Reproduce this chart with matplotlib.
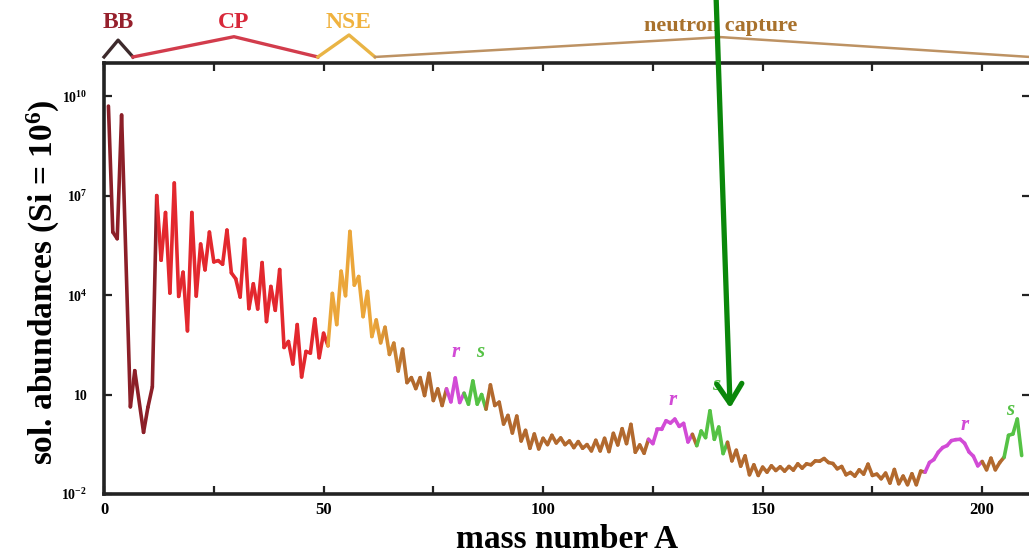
import numpy as np
import matplotlib.pyplot as plt
from matplotlib.collections import LineCollection
from matplotlib.colors import to_rgb
from matplotlib.ticker import NullLocator

plt.rcParams["font.family"] = "Liberation Serif"
plt.rcParams["font.weight"] = "bold"
plt.rcParams["axes.labelweight"] = "bold"
plt.rcParams["mathtext.fontset"] = "custom"
plt.rcParams["mathtext.rm"] = "Liberation Serif:bold"
plt.rcParams["mathtext.bf"] = "Liberation Serif:bold"
plt.rcParams["mathtext.it"] = "Liberation Serif:italic:bold"

# mass numbers (no stable nuclei at A = 5 and A = 8)
mass = list(range(1, 5)) + [6, 7] + list(range(9, 210))

# log10 of the solar abundance per mass number (Si = 1e6)
log_abund = [
    9.70, 5.90, 5.70, 9.43,                                              # 1-4
    0.63, 1.72,                                                          # 6-7
    -0.14, 0.62, 1.23,                                                   # 9-11
    7.00, 5.05, 6.49, 4.06, 7.38, 3.96, 4.69, 2.92, 6.49,                # 12-20
    3.97, 5.54, 4.76, 5.90, 5.00, 5.04, 4.93, 5.96, 4.67, 4.49,          # 21-30
    3.94, 5.69, 3.59, 4.34, 3.58, 4.98, 3.20, 4.26, 3.54, 4.77,          # 31-40
    2.42, 2.60, 1.92, 3.11, 1.53, 2.30, 2.25, 3.28, 2.11, 2.85,          # 41-50
    2.47, 4.05, 3.11, 4.72, 3.98, 5.92, 4.30, 4.56, 3.35, 4.11,          # 51-60
    2.75, 3.25, 2.56, 3.03, 2.21, 2.55, 1.71, 2.37, 1.36, 1.51,          # 61-70
    1.18, 1.51, 0.97, 1.64, 0.82, 1.17, 0.67, 1.17, 0.78, 1.50,          # 71-80
    0.76, 1.04, 0.71, 1.41, 0.71, 1.00, 0.56, 1.29, 0.67, 0.77,          # 81-90
    0.11, 0.37, -0.16, 0.35, -0.40, -0.08, -0.62, -0.19, -0.64, -0.32,   # 91-100
    -0.51, -0.23, -0.46, -0.31, -0.51, -0.40, -0.60, -0.42, -0.62, -0.51,  # 101-110
    -0.70, -0.38, -0.70, -0.32, -0.72, -0.17, -0.52, -0.03, -0.48, 0.10,   # 111-120
    -0.74, -0.52, -0.77, -0.35, -0.48, -0.05, -0.05, 0.21, 0.14, 0.26,     # 121-130
    0.04, 0.13, -0.43, -0.20, -0.54, -0.10, -0.30, 0.51, -0.35, 0.02,      # 131-140
    -0.78, -0.44, -1.00, -0.68, -1.16, -0.85, -1.42, -1.12, -1.44, -1.19,  # 141-150
    -1.34, -1.15, -1.29, -1.18, -1.31, -1.17, -1.28, -1.09, -1.22, -1.09,  # 151-160
    -1.12, -1.00, -1.01, -0.93, -1.05, -1.08, -1.24, -1.17, -1.42, -1.35,  # 161-170
    -1.46, -1.27, -1.40, -1.10, -1.44, -1.40, -1.54, -1.37, -1.67, -1.26,  # 171-180
    -1.69, -1.46, -1.72, -1.39, -1.72, -1.31, -1.34, -1.05, -0.96, -0.74,  # 181-190
    -0.60, -0.54, -0.39, -0.36, -0.35, -0.47, -0.73, -0.86, -1.15, -1.02,  # 191-200
    -1.27, -0.92, -1.27, -1.05, -0.89, -0.23, -0.19, 0.26, -0.84,          # 201-209
]

# mass ranges of the r- and s-process peaks
r_spans = [(78, 82), (124, 134), (187, 200)]
s_spans = [(82, 87), (135, 142), (205, 209)]

# nucleosynthesis regimes shown above the frame: name, start, peak, end
regimes = ["BB", "CP", "NSE", "neutron capture"]
regime_start = [0, 6.6, 48.7, 61.7]
regime_peak = [3.2, 29.6, 55.8, 140.5]
regime_end = [6.6, 48.7, 61.7, 210.9]

# y ticks
ytick_vals = [1e-2, 1e1, 1e4, 1e7, 1e10]
ytick_labels = ["10$^{-2}$", "10", "10$^{4}$", "10$^{7}$", "10$^{10}$"]

C_BB = "#8c1f28"
C_CP = "#e3282e"
C_NSE = "#eba63a"
C_NC = "#b2692e"
C_R = "#d24bd6"
C_S = "#55c245"


def seg_color(a0, a1):
    for lo, hi in r_spans:
        if lo <= a0 and a1 <= hi:
            return C_R
    for lo, hi in s_spans:
        if lo <= a0 and a1 <= hi:
            return C_S
    if a1 <= 12:
        return C_BB
    if a1 <= 51:
        return C_CP
    if a1 <= 62:
        return C_NSE
    if a1 <= 70:
        t = (a1 - 62) / 8
        c0, c1 = np.array(to_rgb(C_NSE)), np.array(to_rgb(C_NC))
        return tuple((1 - t) * c0 + t * c1)
    return C_NC


A = np.array(mass, dtype=float)
N = 10.0 ** np.array(log_abund)

fig = plt.figure(figsize=(10.29, 5.55), dpi=100)
ax = fig.add_axes([0.1011, 0.1099, 0.8999, 0.7766])
ax.set_yscale("log")
ax.set_xlim(0, 210.9)
ax.set_ylim(1e-2, 1e11)

pts = np.column_stack([A, N])
segs = np.stack([pts[:-1], pts[1:]], axis=1)
colors = [seg_color(a0, a1) for a0, a1 in zip(A[:-1], A[1:])]
lc = LineCollection(segs, colors=colors, linewidths=2.6, capstyle="round",
                    joinstyle="round")
ax.add_collection(lc)

# r / s labels over the peaks
r_label_pos = [(80, 190), (129.6, 7.0), (196, 1.2)]
s_label_pos = [(85.6, 190), (139.4, 19), (206.4, 3.4)]
for x, y in r_label_pos:
    ax.text(x, y, "r", color=C_R, fontsize=15, style="italic",
            ha="center", va="center")
for x, y in s_label_pos:
    ax.text(x, y, "s", color=C_S, fontsize=15, style="italic",
            ha="center", va="center")

# regime brackets above the frame
trans = ax.get_xaxis_transform()
bracket_colors = ["#3d2a2c", "#d23c4c", "#e9b445", "#bd9263"]
label_colors = ["#96202c", "#d8283a", "#f0b23e", "#a8712c"]
bracket_lw = [2.4, 2.4, 2.4, 1.8]
peak_y = [1.053, 1.061, 1.065, 1.06]
label_size = [17, 17, 17, 16]
for i, name in enumerate(regimes):
    ax.plot([regime_start[i], regime_peak[i], regime_end[i]],
            [1.014, peak_y[i], 1.014], transform=trans, clip_on=False,
            color=bracket_colors[i], lw=bracket_lw[i])
    ax.text(regime_peak[i], 1.093 if i < 3 else 1.085, name,
            transform=trans, ha="center", va="center",
            color=label_colors[i], fontsize=label_size[i])

# arrow pointing at the s-process peak
arrow_tip = (142.6, 3.9)
ax.annotate("", xy=arrow_tip, xycoords="data",
            xytext=(716 / 1029, 1.01), textcoords="figure fraction",
            arrowprops=dict(arrowstyle="->,head_length=0.7,head_width=0.45",
                            color="#0a870a", lw=3.8, mutation_scale=20,
                            shrinkA=0, shrinkB=0),
            annotation_clip=False)

# axes styling
ax.set_xticks([0, 50, 100, 150, 200])
ax.set_xticks([25, 75, 125, 175], minor=True)
ax.set_yticks(ytick_vals, ytick_labels)
ax.yaxis.set_minor_locator(NullLocator())
ax.tick_params(which="both", direction="in", top=True, right=True,
               length=6, width=1.6, color="#222222")
ax.tick_params(axis="x", labelsize=12, pad=6)
ax.tick_params(axis="y", labelsize=10, pad=12)
for sp in ax.spines.values():
    sp.set_linewidth(2.6)
    sp.set_color("#222222")

ax.set_xlabel("mass number A", fontsize=24, fontweight="bold")
ax.xaxis.set_label_coords(0.5, -0.07)
ax.set_ylabel("sol. abundances (Si = 10$^{6}$)", fontsize=24,
              fontweight="bold")
ax.yaxis.set_label_coords(-0.045, 0.49)

fig.savefig("out.png", dpi=100)
